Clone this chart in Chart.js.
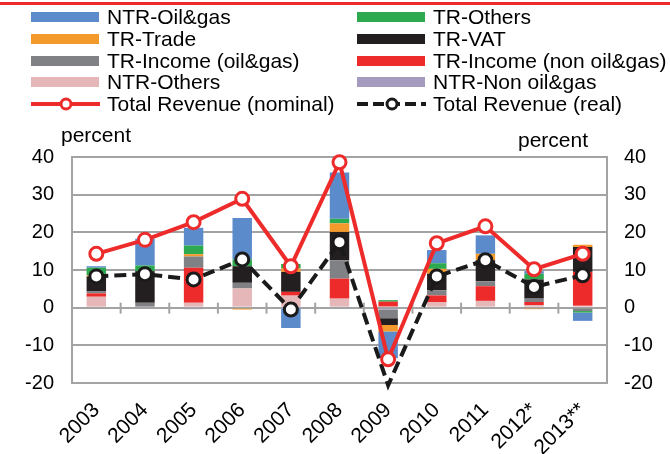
<!DOCTYPE html>
<html><head><meta charset="utf-8">
<script src="https://cdn.jsdelivr.net/npm/chart.js@4"></script>
<style>
html,body{margin:0;padding:0;background:#fff;}
#wrap{position:relative;width:670px;height:454px;overflow:hidden;font-family:"Liberation Sans",Arial,sans-serif;}
#topline{position:absolute;left:0;top:2px;width:670px;height:3px;background:#EE2B2B;}
.lg{position:absolute;font-size:21px;line-height:20px;color:#000;white-space:nowrap;}
.sw{position:absolute;height:10px;width:68px;}
.pct{position:absolute;font-size:21px;line-height:20px;color:#000;white-space:nowrap;}
canvas{position:absolute;left:0;top:0;}
svg{position:absolute;}
</style></head>
<body>
<div id="wrap">
  <canvas id="c" width="670" height="454"></canvas>
  <div id="topline"></div>
  <div class="pct" style="left:61px;top:125px;">percent</div>
  <div class="pct" style="left:518px;top:130px;">percent</div>
</div>
<script>
const years = ['2003','2004','2005','2006','2007','2008','2009','2010','2011','2012*','2013**'];
// stacked components, listed from bottom (nearest zero) to top
const ntrNonOilGas   = [0, 0, -0.4, 0.3, 0, 0.3, -0.5, 0, 0, 0, 0];
const ntrOthers      = [2.9, 0, 1.3, 4.8, 3.2, 2.1, 0.3, 1.5, 1.8, 0.7, 0.5];
const trIncomeNonOil = [0.9, 0, 9.3, 0, 1.0, 5.3, 1.3, 1.75, 3.9, 0.8, 9.0];
const trIncomeOil    = [0.6, 1.3, 3.0, 1.5, 0, 4.9, -2.3, 1.35, 1.3, 0.9, -0.9];
const trVat          = [3.9, 8.4, 0, 4.4, 5.3, 7.5, -1.8, 4.4, 5.6, 5.1, 6.6];
const trTrade        = [0.3, 0, 0.6, -0.5, 0.9, 2.3, -1.7, 1.3, 1.7, -0.4, 0.6];
const trOthers       = [2.0, 1.5, 2.3, 1.8, 1.2, 1.2, 0.4, 1.5, 0, 1.5, -0.4];
const ntrOilGas      = [0.4, 7.1, 4.7, 11.0, -5.4, 12.3, -7.1, 3.5, 4.9, 0.7, -2.2];
const totalNominal   = [14.3, 18.0, 22.7, 28.9, 11.0, 38.6, -13.7, 17.1, 21.6, 10.2, 14.3];
const totalReal      = [8.3, 8.9, 7.5, 12.8, -0.5, 17.4, -20.6, 8.3, 12.6, 5.5, 8.6];
const yTicks = [-20, -10, 0, 10, 20, 30, 40];

const C = {
  blue:'#5B8BCB', green:'#2DA94F', orange:'#F49A2C', black:'#231F20',
  gray:'#808184', red:'#EE2B2B', pink:'#E5B7B8', purple:'#A59BBF'
};
const GRID = '#A3A3A3';

const barSeries = [
  ['NTR-Non oil&gas', ntrNonOilGas, C.purple],
  ['NTR-Others', ntrOthers, C.pink],
  ['TR-Income (non oil&gas)', trIncomeNonOil, C.red],
  ['TR-Income (oil&gas)', trIncomeOil, C.gray],
  ['TR-VAT', trVat, C.black],
  ['TR-Trade', trTrade, C.orange],
  ['TR-Others', trOthers, C.green],
  ['NTR-Oil&gas', ntrOilGas, C.blue]
];

const datasets = barSeries.map(([label, data, color]) => ({
  type:'bar', label, data, backgroundColor:color, borderWidth:0,
  yAxisID:'y', stack:'s', order:2, barPercentage:0.4, categoryPercentage:1
}));
datasets.push({
  type:'line', label:'Total Revenue (real)', data:totalReal, yAxisID:'y2', order:1,
  borderColor:'#1a1a1a', borderWidth:4, borderDash:[12,6], tension:0, clip:false,
  pointRadius: ctx => (ctx.raw < -20 ? 0 : 6.5), pointBackgroundColor:'#fff',
  pointBorderColor:'#1a1a1a', pointBorderWidth:3
});
datasets.push({
  type:'line', label:'Total Revenue (nominal)', data:totalNominal, yAxisID:'y2', order:0,
  borderColor:C.red, borderWidth:4, tension:0, clip:false,
  pointRadius:6.5, pointBackgroundColor:'#fff', pointBorderColor:C.red, pointBorderWidth:3
});

const zeroTicks = {
  id:'zeroTicks',
  beforeDatasetsDraw(chart){
    const xs = chart.scales.x, ys = chart.scales.y, ctx = chart.ctx;
    const y0 = ys.getPixelForValue(0);
    ctx.save();
    ctx.strokeStyle = GRID; ctx.lineWidth = 2;
    for (let i = 0; i < years.length - 1; i++) {
      const x = (xs.getPixelForTick(i) + xs.getPixelForTick(i+1)) / 2;
      ctx.beginPath(); ctx.moveTo(x, y0 - 5); ctx.lineTo(x, y0 + 6); ctx.stroke();
    }
    ctx.restore();
  }
};

const tickFont = {family:'"Liberation Sans", Arial, sans-serif', size:20};
const xFont = {family:'"Liberation Sans", Arial, sans-serif', size:21};
new Chart(document.getElementById('c'), {
  data:{labels:years, datasets},
  options:{
    responsive:false, animation:false,
    layout:{padding:{top:157, left:0, right:0, bottom:0}},
    plugins:{legend:{display:false}, tooltip:{enabled:false}},
    scales:{
      x:{stacked:true, offset:true, grid:{display:false}, border:{display:false},
         ticks:{font:xFont, color:'#000', minRotation:45, maxRotation:45, autoSkip:false, padding:7},
         afterFit:s => { s.height = 71; }},
      y:{stacked:true, min:-20, max:40, position:'left',
         grid:{color:GRID, lineWidth:2, drawTicks:false},
         border:{display:true, color:GRID, width:2},
         ticks:{font:tickFont, color:'#000', padding:18, stepSize:10},
         afterBuildTicks:s => { s.ticks = yTicks.map(v => ({value:v})); },
         afterFit:s => { s.width = 72; }},
      y2:{min:-20, max:40, position:'right',
         grid:{display:false, drawTicks:false},
         border:{display:true, color:GRID, width:2},
         ticks:{font:tickFont, color:'#000', padding:17, stepSize:10},
         afterBuildTicks:s => { s.ticks = yTicks.map(v => ({value:v})); },
         afterFit:s => { s.width = 63; }}
    }
  },
  plugins:[zeroTicks]
});

// legend (two columns, row-major like the reference)
const legendItems = [
  ['NTR-Oil&gas', C.blue, 'bar'], ['TR-Others', C.green, 'bar'],
  ['TR-Trade', C.orange, 'bar'], ['TR-VAT', C.black, 'bar'],
  ['TR-Income (oil&gas)', C.gray, 'bar'], ['TR-Income (non oil&gas)', C.red, 'bar'],
  ['NTR-Others', C.pink, 'bar'], ['NTR-Non oil&gas', C.purple, 'bar'],
  ['Total Revenue (nominal)', C.red, 'line'], ['Total Revenue (real)', '#1a1a1a', 'dash']
];
const wrap = document.getElementById('wrap');
const colX = [31, 357], textX = [107, 433], rowY = [16.7, 38.5, 60.5, 82, 104];
legendItems.forEach(([label, color, kind], i) => {
  const col = i % 2, row = Math.floor(i / 2), cy = rowY[row];
  if (kind === 'bar') {
    const s = document.createElement('div');
    s.className = 'sw'; s.style.left = colX[col] + 'px'; s.style.top = (cy - 5) + 'px';
    s.style.background = color; wrap.appendChild(s);
  } else {
    const ns = 'http://www.w3.org/2000/svg';
    const svg = document.createElementNS(ns, 'svg');
    svg.setAttribute('width', 72); svg.setAttribute('height', 20);
    svg.style.left = (colX[col] - 1) + 'px'; svg.style.top = (cy - 10) + 'px';
    const ln = document.createElementNS(ns, 'line');
    ln.setAttribute('x1', 1); ln.setAttribute('x2', 70); ln.setAttribute('y1', 10); ln.setAttribute('y2', 10);
    ln.setAttribute('stroke', color); ln.setAttribute('stroke-width', 4);
    if (kind === 'dash') ln.setAttribute('stroke-dasharray', '11,5');
    svg.appendChild(ln);
    const c = document.createElementNS(ns, 'circle');
    c.setAttribute('cx', 36); c.setAttribute('cy', 10); c.setAttribute('r', 5);
    c.setAttribute('fill', '#fff'); c.setAttribute('stroke', color); c.setAttribute('stroke-width', 3);
    svg.appendChild(c);
    wrap.appendChild(svg);
  }
  const t = document.createElement('div');
  t.className = 'lg'; t.textContent = label;
  t.style.left = textX[col] + 'px'; t.style.top = (cy - 10) + 'px';
  wrap.appendChild(t);
});
</script>
</body></html>
